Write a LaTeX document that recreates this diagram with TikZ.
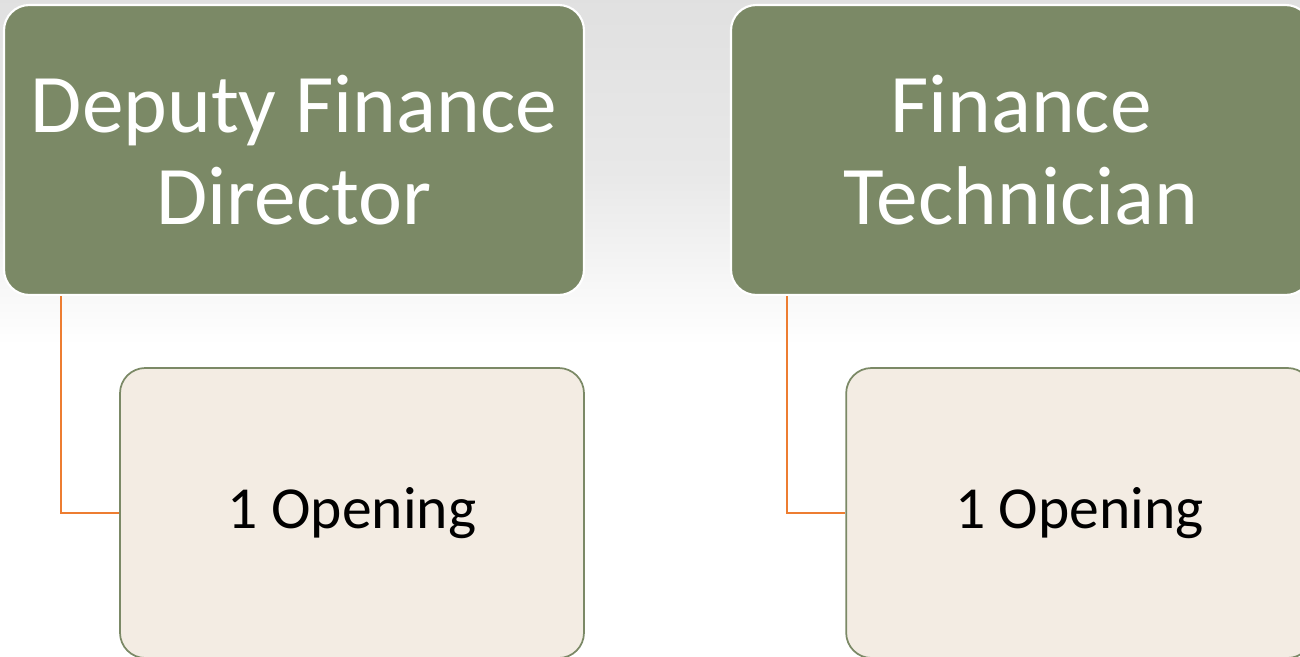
\documentclass[tikz,border=0pt]{standalone}
\usepackage{fontspec}
\setmainfont{Carlito}
\usetikzlibrary{calc}
\definecolor{hgreen}{HTML}{7B8966}
\definecolor{beige}{HTML}{F3ECE3}
\definecolor{conn}{HTML}{ED7D31}
\begin{document}
\begin{tikzpicture}[x=0.75pt,y=-0.75pt,
  head/.style={draw=white,line width=1.6pt,fill=hgreen,rounded corners=19pt,
    minimum width=435pt,minimum height=217.5pt,inner sep=0pt,align=center,
    text=white,font=\fontsize{62.5}{69}\selectfont},
  sub/.style={draw=hgreen,line width=1.3pt,fill=beige,rounded corners=19pt,
    minimum height=217.5pt,inner sep=0pt,align=center,
    text=black,font=\fontsize{44.7}{53}\selectfont},
  link/.style={draw=conn,line width=1.5pt}]
\useasboundingbox (0,0) rectangle (1300,657);
\fill[white] (0,0) rectangle (1300,657);
\shade[top color=black!12,bottom color=white,middle color=black!9] (0,0) rectangle (1300,345);
\node[head] (g1) at (294,150) {Deputy Finance\\Director};
\node[head] (g2) at (1021,150) {Finance\\Technician};
\node[sub,minimum width=348pt] (b1) at (352,513) {1 Opening};
\node[sub,minimum width=350pt] (b2) at (1079.5,513) {1 Opening};
\draw[link] ($(g1.south west)+(58,0)$) |- (b1.west);
\draw[link] ($(g2.south west)+(57,0)$) |- (b2.west);
\end{tikzpicture}
\end{document}
